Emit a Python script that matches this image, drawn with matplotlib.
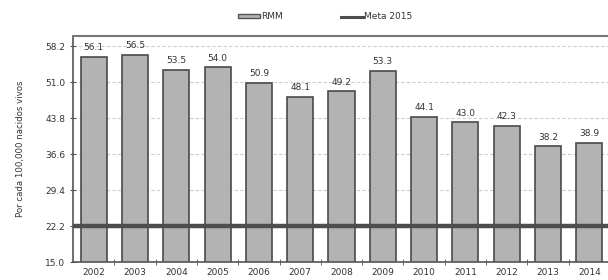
import matplotlib.pyplot as plt
from matplotlib.patches import Patch
from matplotlib.lines import Line2D

# Razon de mortalidad materna (RMM), 2002 - 2014
anios = ['2002', '2003', '2004', '2005', '2006', '2007', '2008',
         '2009', '2010', '2011', '2012', '2013', '2014']
rmm = [56.1, 56.5, 53.5, 54.0, 50.9, 48.1, 49.2, 53.3, 44.1, 43.0, 42.3, 38.2, 38.9]
meta_2015 = 22.2
yticks = [15.0, 22.2, 29.4, 36.6, 43.8, 51.0, 58.2]

plt.rcParams['font.family'] = 'DejaVu Sans'

fig = plt.figure(figsize=(6.08, 2.80), dpi=100)
ax = fig.add_axes([0.12, 0.064, 0.88, 0.807])

x = list(range(len(anios)))
ax.bar(x, rmm, width=0.63, bottom=0, color='#b3b3b3', edgecolor='#4a4a4a',
       linewidth=1.2, zorder=2)
ax.axhline(meta_2015, color='#4d4d4d', linewidth=3.2, zorder=3)

for i, v in enumerate(rmm):
    ax.annotate('%.1f' % v, (i, v), xytext=(0, 3), textcoords='offset points',
                ha='center', va='bottom', fontsize=6.5, color='#333333')

ax.set_xlim(-0.5, 12.45)
ax.set_ylim(15, 60.2)
ax.set_yticks(yticks)
ax.set_yticklabels(['%.1f' % t for t in yticks])
ax.set_xticks(x)
ax.set_xticklabels(anios)
ax.set_xticks([i + 0.5 for i in range(len(anios) - 1)], minor=True)
ax.tick_params(axis='x', which='major', length=0, labelsize=6.5, pad=4, labelcolor='#333333')
ax.tick_params(axis='x', which='minor', length=4, direction='inout', color='#555555')
ax.tick_params(axis='y', length=4, direction='inout', labelsize=6.5, labelcolor='#333333', color='#555555')

ax.grid(axis='y', linestyle=(0, (3, 2)), color='#cccccc', linewidth=0.8, zorder=0)
ax.set_axisbelow(True)
ax.spines['right'].set_visible(False)
ax.spines['left'].set_color('#555555')
ax.spines['bottom'].set_color('#555555')
ax.spines['top'].set_color('#777777')
ax.spines['left'].set_linewidth(1.2)
ax.spines['bottom'].set_linewidth(1.2)
ax.spines['top'].set_linewidth(1.5)

fig.text(0.033, 0.47, 'Por cada 100,000 nacidos vivos', rotation=90,
         ha='center', va='center', fontsize=6.2, color='#333333')

handles = [Patch(facecolor='#b3b3b3', edgecolor='#555555', linewidth=1.0),
           Line2D([0], [0], color='#4d4d4d', linewidth=2.2)]
fig.legend(handles, ['RMM', 'Meta 2015'], loc='center', ncol=2,
           bbox_to_anchor=(0.535, 0.94), frameon=False, fontsize=6.5,
           handlelength=2.4, handleheight=0.35, handletextpad=0.1,
           columnspacing=6.5, labelcolor='#333333')

fig.savefig('out.png', dpi=100)
